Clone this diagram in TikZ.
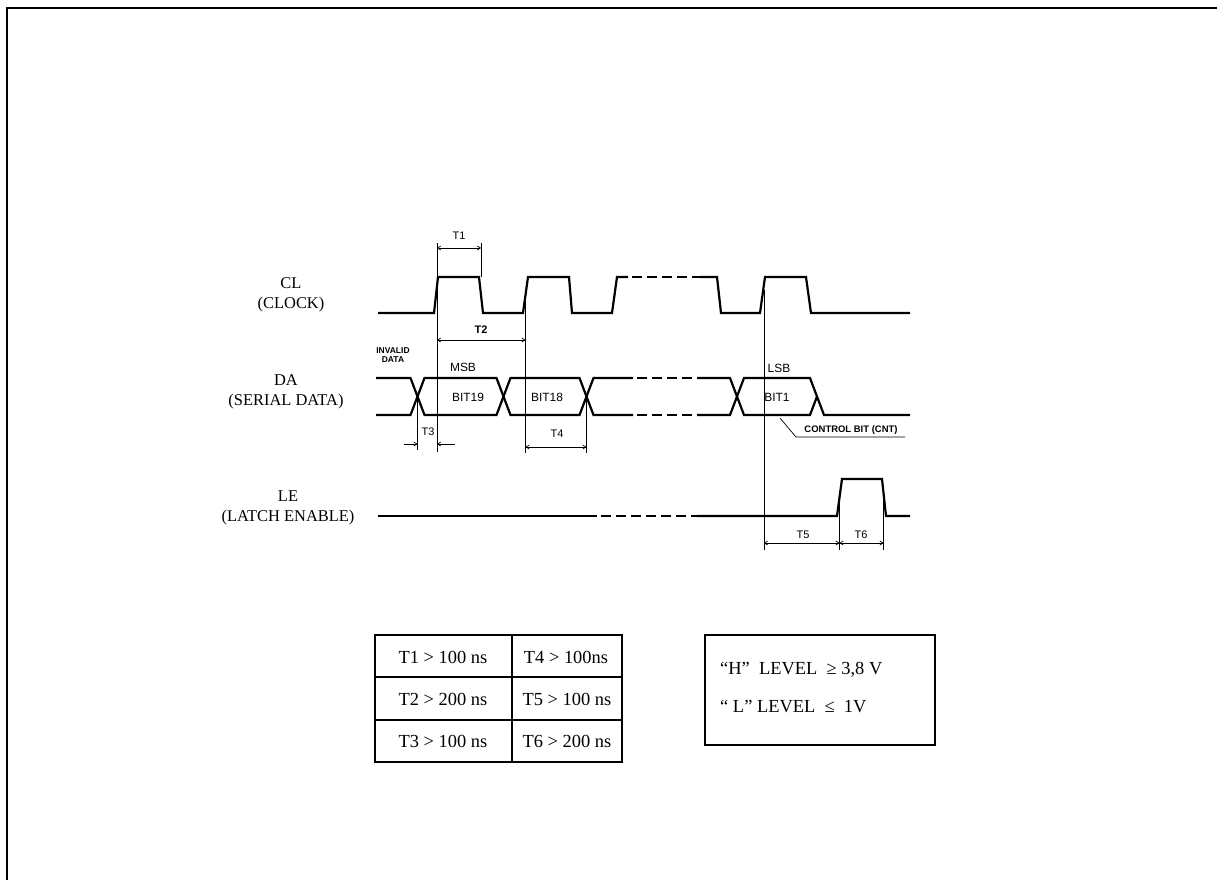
\documentclass[tikz,border=0pt]{standalone}
\usepackage{fontspec}
\setmainfont{Liberation Serif}
\newfontfamily\arialf{Liberation Sans}
\usetikzlibrary{arrows.meta}
\begin{document}
\begin{tikzpicture}[x=1bp,y=-1bp,
  wave/.style={line width=2.2bp, line join=miter},
  dashwave/.style={line width=2.2bp, dash pattern=on 10bp off 5bp},
  thinl/.style={line width=0.7bp},
  dimarrow/.style={line width=0.7bp, {Straight Barb[length=3bp,width=4bp]}-{Straight Barb[length=3bp,width=4bp]}},
  onearrow/.style={line width=0.7bp, -{Straight Barb[length=3bp,width=4bp]}},
  siglbl/.style={font=\fontsize{16.5}{20}\selectfont, align=center, inner sep=0},
  tlbl/.style={font=\arialf\fontsize{11}{12}\selectfont, inner sep=0},
  bitlbl/.style={font=\arialf\fontsize{12}{13}\selectfont, inner sep=0},
  boldlbl/.style={font=\arialf\bfseries\fontsize{9.5}{9.5}\selectfont, inner sep=0, align=center},
  tinybold/.style={font=\arialf\bfseries\fontsize{8.5}{8.5}\selectfont, inner sep=0},
  cell/.style={font=\fontsize{18.5}{22}\selectfont, inner sep=0},
  boxline/.style={line width=1.2bp}]
\fill[white] (0,0) rectangle (1217,880);
\useasboundingbox (0,0) rectangle (1217,880);
% frame
\draw[line width=2bp] (7,880) -- (7,8) -- (1217,8);

% signal names
\node[siglbl] (clname) at (291,295) {CL\\(CLOCK)};
\node[siglbl] (daname) at (286,392) {DA\\(SERIAL DATA)};
\node[siglbl] (lename) at (288,508) {LE\\(LATCH ENABLE)};

% CL waveform
\draw[wave] (378,313) -- (434,313) -- (438,277) -- (479,277) -- (483,313) -- (523,313) -- (528,277) -- (569,277) -- (572,313) -- (612,313) -- (617,277) -- (628,277);
\draw[dashwave] (632,277) -- (700,277);
\draw[wave] (700,277) -- (717,277) -- (721,313) -- (760,313) -- (765,277) -- (806,277) -- (811,313) -- (910,313);

% DA waveform
\draw[wave] (376,378) -- (410.5,378) -- (424.5,415) -- (496.5,415) -- (510.5,378) -- (579.5,378) -- (593.5,415) -- (633,415);
\draw[wave] (376,415) -- (410.5,415) -- (424.5,378) -- (496.5,378) -- (510.5,415) -- (579.5,415) -- (593.5,378) -- (633,378);
\draw[dashwave] (637,378) -- (697,378);
\draw[dashwave] (637,415) -- (697,415);
\draw[wave] (697,378) -- (730,378) -- (744,415) -- (810,415) -- (817,396.5);
\draw[wave] (697,415) -- (730,415) -- (744,378) -- (810,378) -- (824,415) -- (910,415);

% LE waveform
\draw[wave] (378,516) -- (597,516);
\draw[dashwave] (601,516) -- (697,516);
\draw[wave] (697,516) -- (837,516) -- (842,479) -- (882,479) -- (886,516) -- (910,516);

% reference lines
\coordinate (v1t) at (437,243); \coordinate (v1b) at (437,452);
\draw[thinl] (v1t) -- (v1b);
\coordinate (v2t) at (481,243); \coordinate (v2b) at (481,277);
\draw[thinl] (v2t) -- (v2b);
\coordinate (v3t) at (525.5,300); \coordinate (v3b) at (525.5,453);
\draw[thinl] (v3t) -- (v3b);
\coordinate (v4t) at (417.5,396.5); \coordinate (v4b) at (417.5,450);
\draw[thinl] (v4t) -- (v4b);
\coordinate (v5t) at (586.5,396.5); \coordinate (v5b) at (586.5,453);
\draw[thinl] (v5t) -- (v5b);
\coordinate (v6t) at (764,290); \coordinate (v6b) at (764,550);
\draw[thinl] (v6t) -- (v6b);
\coordinate (v7t) at (839.5,497); \coordinate (v7b) at (839.5,550);
\draw[thinl] (v7t) -- (v7b);
\coordinate (v8t) at (883.5,500); \coordinate (v8b) at (883.5,550);
\draw[thinl] (v8t) -- (v8b);

% T1
\coordinate (t1a) at (437,248); \coordinate (t1b) at (481,248);
\draw[dimarrow] (t1a) -- (t1b);
\node[tlbl] (t1) at (459,236) {T1};
% T2
\coordinate (t2a) at (437,340); \coordinate (t2b) at (525.5,340);
\draw[dimarrow] (t2a) -- (t2b);
\node[boldlbl, font=\arialf\bfseries\fontsize{11}{11}\selectfont] (t2) at (481,330) {T2};
% T3
\coordinate (t3l) at (404,444); \coordinate (t3la) at (417.5,444);
\coordinate (t3r) at (455,444); \coordinate (t3ra) at (437,444);
\draw[onearrow] (t3l) -- (t3la);
\draw[onearrow] (t3r) -- (t3ra);
\node[tlbl] (t3) at (428,432) {T3};
% T4
\coordinate (t4a) at (525.5,447); \coordinate (t4b) at (586.5,447);
\draw[dimarrow] (t4a) -- (t4b);
\node[tlbl] (t4) at (557,434) {T4};
% T5, T6
\coordinate (t5a) at (764,543); \coordinate (t5b) at (839.5,543);
\draw[dimarrow] (t5a) -- (t5b);
\node[tlbl] (t5) at (803,535) {T5};
\coordinate (t6b) at (883.5,543);
\draw[dimarrow] (t5b) -- (t6b);
\node[tlbl] (t6) at (861,535) {T6};

% data labels
\node[tinybold] (inv1) at (393,351) {INVALID};
\node[tinybold] (inv2) at (393,360) {DATA};
\node[bitlbl] (msb) at (463,367) {MSB};
\node[bitlbl] (b19) at (468,397) {BIT19};
\node[bitlbl] (b18) at (547,397) {BIT18};
\node[bitlbl] (lsb) at (779,368) {LSB};
\node[bitlbl] (b1) at (777,397) {BIT1};

% control bit callout
\coordinate (cb0) at (780,418); \coordinate (cb1) at (796,437); \coordinate (cb2) at (905,437);
\draw[thinl] (cb0) -- (cb1) -- (cb2);
\node[boldlbl] (cnt) at (851,430) {CONTROL BIT (CNT)};

% timing table
\draw[boxline] (375,635) rectangle (622,762);
\draw[boxline] (512,635) -- (512,762);
\draw[boxline] (375,677) -- (622,677);
\draw[boxline] (375,720) -- (622,720);
\node[cell] (c11) at (443,657) {T1 > 100 ns};
\node[cell] (c12) at (566,657) {T4 > 100ns};
\node[cell] (c21) at (443,699) {T2 > 200 ns};
\node[cell] (c22) at (567,699) {T5 > 100 ns};
\node[cell] (c31) at (443,741) {T3 > 100 ns};
\node[cell] (c32) at (567,741) {T6 > 200 ns};

% level box
\draw[boxline] (705,635) rectangle (935,745);
\node[cell, anchor=west] (hl) at (720,670) {“H”\ \ LEVEL\ \ ≥ 3,8 V};
\node[cell, anchor=west] (ll) at (720,706) {“ L” LEVEL\ \ ≤\ \ 1V};
\end{tikzpicture}
\end{document}
